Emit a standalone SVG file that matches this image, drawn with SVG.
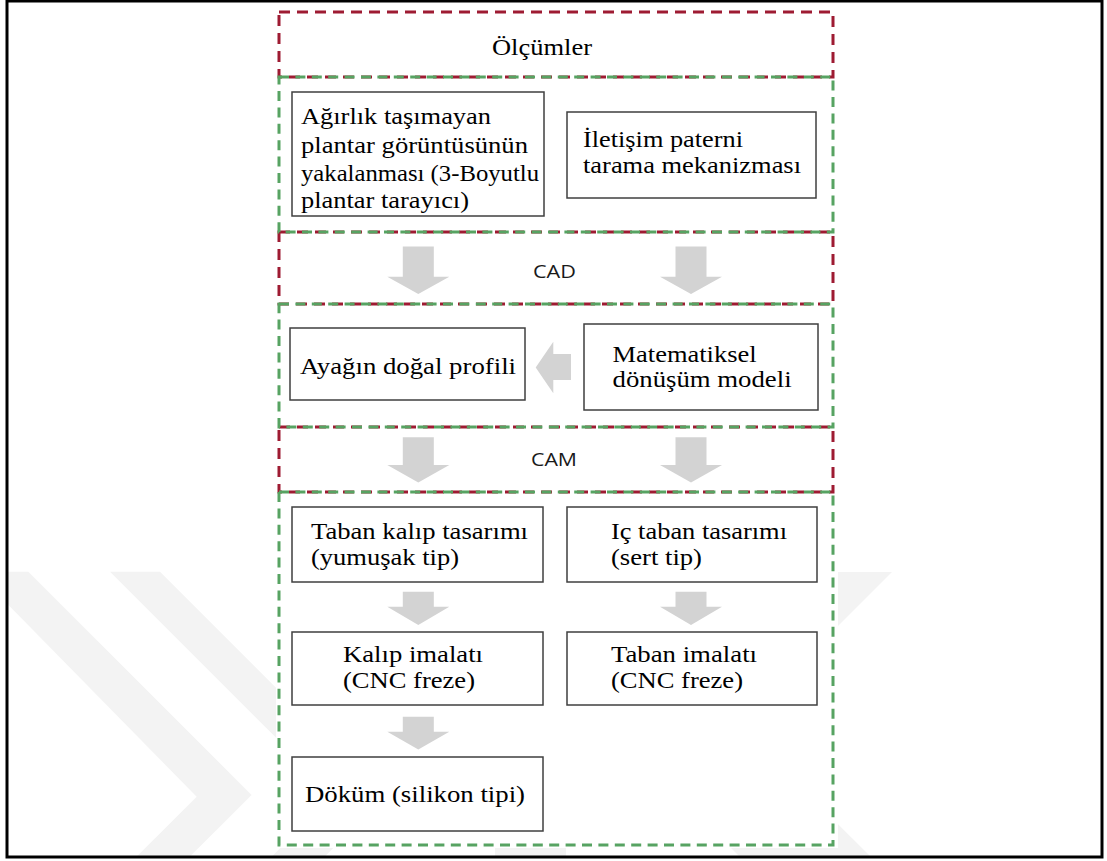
<svg xmlns="http://www.w3.org/2000/svg" width="1107" height="861" viewBox="0 0 1107 861">
<style>
  .wm { fill: #f3f3f3; }
  .red { fill: none; stroke: #9e1b32; stroke-width: 3; stroke-dasharray: 11 7; }
  .grn { fill: none; stroke: #57a362; stroke-width: 3; stroke-dasharray: 10 6.4; }
  .box { fill: #ffffff; stroke: #3f3f3f; stroke-width: 1.5; }
  .t { font-size: 24px; fill: #000000; }
  .s { font-size: 17.5px; fill: #1a1a1a; }
  .arr { fill: #d3d3d3; stroke: none; }
</style>
<rect x="0" y="0" width="1107" height="861" fill="#ffffff"/>
<g id="watermark">
  <polygon class="wm" points="7,571.7 28.3,571.7 251.5,794.9 189.4,857 136.4,857 196.7,796.7 7,603.6"/>
  <polygon class="wm" points="110,571.7 160,571.7 384.8,796.5 324.4,857 271.4,857 333.4,795"/>
  <polygon class="wm" points="800,572 892,572 700,764 608,764"/>
  <polygon class="wm" points="650,637 871,857 740,857 650,767"/>
  <polygon class="wm" points="495,800 566,800 566,857 495,857"/>
</g>
<rect x="276" y="5" width="562" height="843" fill="#ffffff"/>
<rect id="frame" x="7" y="1" width="1095" height="856" fill="none" stroke="#000000" stroke-width="3"/>
<g id="regions">
  <rect id="region-olcumler" class="red" x="279" y="12" width="554" height="65"/>
  <rect id="region-cad" class="red" x="279" y="232" width="554" height="72"/>
  <rect id="region-cam" class="red" x="279" y="427" width="554" height="65"/>
  <rect id="region-olcum-kutular" class="grn" x="279" y="77" width="554" height="155"/>
  <rect id="region-cad-kutular" class="grn" x="279" y="304" width="554" height="123"/>
  <rect id="region-cam-kutular" class="grn" x="279" y="492" width="554" height="353"/>
</g>
<g id="region-labels" font-family="'Liberation Serif', 'Times New Roman', Tinos, serif">
  <text class="t" x="492" y="55" textLength="100" lengthAdjust="spacingAndGlyphs">Ölçümler</text>
  <text class="s" font-family="'Open Sans', 'Liberation Sans', sans-serif" x="533" y="277.7" textLength="43" lengthAdjust="spacingAndGlyphs">CAD</text>
  <text class="s" font-family="'Open Sans', 'Liberation Sans', sans-serif" x="531" y="465.7" textLength="46" lengthAdjust="spacingAndGlyphs">CAM</text>
</g>
<g id="connectors">
  <polygon class="arr" points="402.8,246.5 433.8,246.5 433.8,276.7 449.3,276.7 418.3,294 387.3,276.7 402.8,276.7"/>
  <polygon class="arr" points="675.5,246.5 706.5,246.5 706.5,276.7 722,276.7 691,294 660,276.7 675.5,276.7"/>
  <polygon class="arr" points="571,354 553.3,354 553.3,341.7 535.7,367.5 553.3,393.3 553.3,380 571,380"/>
  <polygon class="arr" points="402.8,437.3 433.8,437.3 433.8,465 449.3,465 418.3,482.5 387.3,465 402.8,465"/>
  <polygon class="arr" points="675.5,437.3 706.5,437.3 706.5,465 722,465 691,482.5 660,465 675.5,465"/>
  <polygon class="arr" points="402.8,591.7 433.8,591.7 433.8,606.7 449.3,606.7 418.3,625 387.3,606.7 402.8,606.7"/>
  <polygon class="arr" points="675.5,591.7 706.5,591.7 706.5,606.7 722,606.7 691,625 660,606.7 675.5,606.7"/>
  <polygon class="arr" points="402.8,716.7 433.8,716.7 433.8,731.7 449.3,731.7 418.3,749.5 387.3,731.7 402.8,731.7"/>
</g>
<g id="nodes" font-family="'Liberation Serif', 'Times New Roman', Tinos, serif">
<g id="node-agirlik">
  <rect class="box" x="292" y="92" width="252" height="124"/>
  <text class="t" x="301" y="124" textLength="190" lengthAdjust="spacingAndGlyphs">Ağırlık taşımayan</text>
  <text class="t" x="301" y="152.5" textLength="227" lengthAdjust="spacingAndGlyphs">plantar görüntüsünün</text>
  <text class="t" x="301" y="180.5" textLength="238" lengthAdjust="spacingAndGlyphs">yakalanması (3-Boyutlu</text>
  <text class="t" x="301" y="208" textLength="168" lengthAdjust="spacingAndGlyphs">plantar tarayıcı)</text>
</g>
<g id="node-iletisim">
  <rect class="box" x="567" y="112" width="249" height="86"/>
  <text class="t" x="583" y="146.7" textLength="160" lengthAdjust="spacingAndGlyphs">İletişim paterni</text>
  <text class="t" x="583" y="173.3" textLength="218" lengthAdjust="spacingAndGlyphs">tarama mekanizması</text>
</g>
<g id="node-ayagin">
  <rect class="box" x="290" y="328" width="235" height="72"/>
  <text class="t" x="300" y="374" textLength="216" lengthAdjust="spacingAndGlyphs">Ayağın doğal profili</text>
</g>
<g id="node-matematiksel">
  <rect class="box" x="584" y="324" width="234" height="86"/>
  <text class="t" x="612.6" y="361.7" textLength="144" lengthAdjust="spacingAndGlyphs">Matematiksel</text>
  <text class="t" x="612.6" y="387.3" textLength="179" lengthAdjust="spacingAndGlyphs">dönüşüm modeli</text>
</g>
<g id="node-taban-kalip">
  <rect class="box" x="292" y="507" width="251" height="75"/>
  <text class="t" x="311" y="539.3" textLength="217" lengthAdjust="spacingAndGlyphs">Taban kalıp tasarımı</text>
  <text class="t" x="311" y="565" textLength="148" lengthAdjust="spacingAndGlyphs">(yumuşak tip)</text>
</g>
<g id="node-ic-taban">
  <rect class="box" x="567" y="507" width="250" height="75"/>
  <text class="t" x="611" y="539.3" textLength="176" lengthAdjust="spacingAndGlyphs">Iç taban tasarımı</text>
  <text class="t" x="611" y="565" textLength="91" lengthAdjust="spacingAndGlyphs">(sert tip)</text>
</g>
<g id="node-kalip-imalati">
  <rect class="box" x="292" y="632" width="251" height="73"/>
  <text class="t" x="343" y="661.7" textLength="140" lengthAdjust="spacingAndGlyphs">Kalıp imalatı</text>
  <text class="t" x="343" y="687.7" textLength="132" lengthAdjust="spacingAndGlyphs">(CNC freze)</text>
</g>
<g id="node-taban-imalati">
  <rect class="box" x="567" y="632" width="250" height="73"/>
  <text class="t" x="611" y="661.7" textLength="146" lengthAdjust="spacingAndGlyphs">Taban imalatı</text>
  <text class="t" x="611" y="687.7" textLength="132" lengthAdjust="spacingAndGlyphs">(CNC freze)</text>
</g>
<g id="node-dokum">
  <rect class="box" x="292" y="757" width="251" height="74"/>
  <text class="t" x="305" y="801.7" textLength="220" lengthAdjust="spacingAndGlyphs">Döküm (silikon tipi)</text>
</g>
</g>
</svg>
